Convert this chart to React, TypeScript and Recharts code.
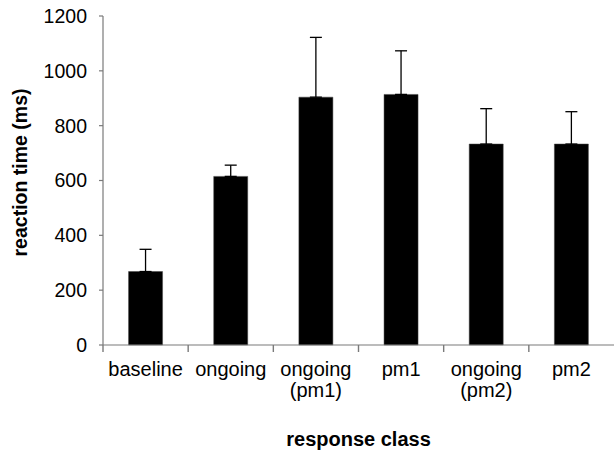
import { BarChart, Bar, XAxis, YAxis, ErrorBar, Label } from "recharts"

const categories = ["baseline", "ongoing", "ongoing\n(pm1)", "pm1", "ongoing\n(pm2)", "pm2"]
const meanRt = [268, 615, 904, 914, 733, 733]
const upperErr = [81, 41, 218, 159, 129, 118]
const yTicks = [0, 200, 400, 600, 800, 1000, 1200]

const data = categories.map((name, i) => ({
  name,
  rt: meanRt[i],
  err: [0, upperErr[i]],
}))

const font = "'Liberation Sans', Arial, Helvetica, sans-serif"
const axisGray = "#7a7a7a"

// category label (may wrap) plus a tick mark on the left edge of its band
const CategoryTick = ({ x, y, payload }: any) => {
  const lines = String(payload.value).split("\n")
  const edge = x - (payload.offset || 0)
  return (
    <g>
      <line x1={edge} y1={y} x2={edge} y2={y + 7} stroke={axisGray} strokeWidth={1.4} />
      <text x={x} y={y} textAnchor="middle" fill="#000" fontSize={20} fontFamily={font}>
        {lines.map((line, i) => (
          <tspan key={i} x={x} dy={i === 0 ? 31 : 21}>
            {line}
          </tspan>
        ))}
      </text>
    </g>
  )
}

const YTitle = ({ viewBox }: any) => {
  const cx = 20
  const cy = viewBox.y + viewBox.height / 2 - 8
  return (
    <text
      x={cx}
      y={cy}
      transform={`rotate(-90, ${cx}, ${cy})`}
      textAnchor="middle"
      dominantBaseline="central"
      fontSize={19.5}
      fontWeight="bold"
      fontFamily={font}
      fill="#000"
    >
      reaction time (ms)
    </text>
  )
}

export default function App() {
  return (
    <div style={{ position: "absolute", left: 0, top: 0, width: 614, height: 450, background: "#fff" }}>
      <BarChart
        width={614}
        height={450}
        data={data}
        margin={{ top: 16, right: 0, left: 0, bottom: 104 }}
        barCategoryGap="30%"
      >
        <XAxis
          dataKey="name"
          height={1}
          tickLine={false}
          tickSize={0}
          tickMargin={0}
          axisLine={{ stroke: axisGray, strokeWidth: 1.2 }}
          tick={<CategoryTick />}
          interval={0}
        >
          <Label
            value="response class"
            position="bottom"
            offset={86}
            style={{ fontSize: 20, fontWeight: "bold", fontFamily: font, fill: "#000" }}
          />
        </XAxis>
        <YAxis
          width={103}
          domain={[0, 1200]}
          ticks={yTicks}
          interval={0}
          tickSize={4}
          tickMargin={12}
          tickLine={{ stroke: axisGray, strokeWidth: 1.2 }}
          axisLine={{ stroke: axisGray, strokeWidth: 1.2 }}
          tick={{ fontSize: 19.5, fill: "#000", fontFamily: font }}
        >
          <Label content={<YTitle />} />
        </YAxis>
        <Bar dataKey="rt" fill="#000" stroke="#444" strokeWidth={0.5} isAnimationActive={false}>
          <ErrorBar dataKey="err" direction="y" width={6} stroke="#000" strokeWidth={1.3} isAnimationActive={false} />
        </Bar>
      </BarChart>
    </div>
  )
}
